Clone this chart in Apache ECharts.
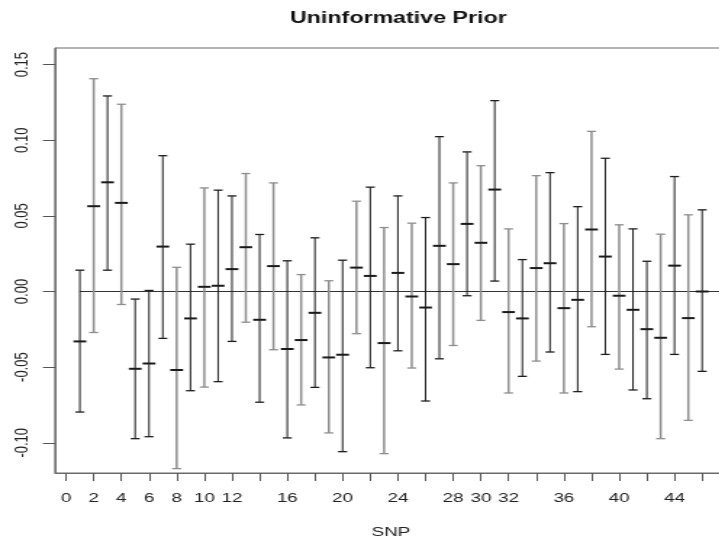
<!DOCTYPE html>
<html>
<head>
<meta charset="utf-8">
<script src="https://cdn.jsdelivr.net/npm/echarts@6/dist/echarts.min.js"></script>
<style>
html,body{margin:0;padding:0;background:#fff;overflow:hidden;}
#wrap{width:719px;height:539px;overflow:hidden;position:relative;}
#chart{width:496px;height:539px;transform:scaleX(1.45);transform-origin:0 0;}
</style>
</head>
<body>
<div id="wrap"><div id="chart"></div></div>
<script>
// SNP index
const snp = [1,2,3,4,5,6,7,8,9,10,11,12,13,14,15,16,17,18,19,20,21,22,23,24,25,26,27,28,29,30,31,32,33,34,35,36,37,38,39,40,41,42,43,44,45,46];
// posterior estimate
const est = [-0.0330,0.0564,0.0722,0.0586,-0.0511,-0.0476,0.0297,-0.0519,-0.0178,0.0031,0.0038,0.0148,0.0293,-0.0187,0.0168,-0.0380,-0.0321,-0.0141,-0.0436,-0.0418,0.0158,0.0103,-0.0341,0.0123,-0.0033,-0.0106,0.0302,0.0181,0.0447,0.0322,0.0674,-0.0136,-0.0178,0.0155,0.0187,-0.0110,-0.0055,0.0410,0.0231,-0.0028,-0.0121,-0.0249,-0.0306,0.0171,-0.0176,0.0000];
// lower limit
const lower = [-0.0797,-0.0271,0.0141,-0.0086,-0.0973,-0.0960,-0.0310,-0.1171,-0.0656,-0.0632,-0.0596,-0.0330,-0.0203,-0.0732,-0.0385,-0.0968,-0.0750,-0.0634,-0.0935,-0.1059,-0.0279,-0.0504,-0.1072,-0.0392,-0.0506,-0.0724,-0.0445,-0.0357,-0.0028,-0.0191,0.0069,-0.0671,-0.0561,-0.0460,-0.0400,-0.0671,-0.0662,-0.0233,-0.0416,-0.0513,-0.0651,-0.0709,-0.0973,-0.0416,-0.0852,-0.0528];
// upper limit
const upper = [0.0141,0.1407,0.1293,0.1238,-0.0050,0.0007,0.0898,0.0160,0.0313,0.0685,0.0670,0.0632,0.0780,0.0377,0.0718,0.0203,0.0112,0.0355,0.0071,0.0207,0.0597,0.0690,0.0423,0.0632,0.0452,0.0489,0.1024,0.0718,0.0923,0.0832,0.1262,0.0414,0.0211,0.0766,0.0786,0.0449,0.0561,0.1059,0.0881,0.0441,0.0414,0.0200,0.0379,0.0760,0.0507,0.0540];
// axis ticks / labels
const xTicks = [0,2,4,6,8,10,12,14,16,18,20,22,24,26,28,30,32,34,36,38,40,42,44,46];
const xLabels = [0,2,4,6,8,10,12,16,20,24,28,30,32,36,40,44];
const yTicks = [-0.10,-0.05,0.00,0.05,0.10,0.15];
const zeroLine = 0;
// style only: bars that look light grey in the reference
const lightBars = [2,4,8,10,13,15,17,19,21,23,25,28,30,32,34,36,38,40,43,45];

const FONT = '"Liberation Sans", Arial, Helvetica, sans-serif';
const chart = echarts.init(document.getElementById('chart'));

const barData = snp.map((s, i) => [s, lower[i], upper[i], est[i]]);

function renderItem(params, api) {
  const x = api.value(0);
  const pLo = api.coord([x, api.value(1)]);
  const pHi = api.coord([x, api.value(2)]);
  const pE = api.coord([x, api.value(3)]);
  const light = lightBars.indexOf(x) >= 0;
  const col = light ? '#8e8e8e' : '#1e1e1e';
  const w = light ? 1.5 : 1;
  const cap = 3.1, em = 4.4;
  const st = {stroke: col, lineWidth: w};
  return {
    type: 'group',
    children: [
      {type: 'line', shape: {x1: pLo[0], y1: pLo[1], x2: pHi[0], y2: pHi[1]}, style: st},
      {type: 'line', shape: {x1: pHi[0] - cap, y1: pHi[1], x2: pHi[0] + cap, y2: pHi[1]}, style: {stroke: col, lineWidth: 1.3}},
      {type: 'line', shape: {x1: pLo[0] - cap, y1: pLo[1], x2: pLo[0] + cap, y2: pLo[1]}, style: {stroke: col, lineWidth: 1.3}},
      {type: 'line', shape: {x1: pE[0] - em, y1: pE[1], x2: pE[0] + em, y2: pE[1]}, style: {stroke: '#1a1a1a', lineWidth: 2}}
    ]
  };
}

chart.setOption({
  animation: false,
  backgroundColor: '#ffffff',
  title: {
    text: 'Uninformative Prior',
    left: 269.7,
    textAlign: 'center',
    top: 6,
    textStyle: {fontFamily: FONT, fontSize: 16, fontWeight: 'bold', color: '#111'}
  },
  grid: {
    left: 37.9, right: -5.4, top: 48, bottom: 66,
    containLabel: false,
    outerBoundsMode: 'none',
    show: true, borderColor: '#6a6a6a', borderWidth: 1, backgroundColor: 'transparent'
  },
  xAxis: {
    type: 'value',
    position: 'bottom',
    min: -0.8, max: 47.8,
    name: 'SNP',
    nameLocation: 'middle',
    nameGap: 53,
    nameTextStyle: {fontFamily: FONT, fontSize: 13, color: '#222'},
    axisLine: {show: true, onZero: false, lineStyle: {color: '#6a6a6a', width: 1}},
    axisTick: {show: true, length: 8, customValues: xTicks, lineStyle: {color: '#555', width: 1}},
    axisLabel: {show: true, customValues: xLabels, margin: 19, fontFamily: FONT, fontSize: 13, color: '#222'},
    splitLine: {show: false}
  },
  yAxis: {
    type: 'value',
    position: 'left',
    min: -0.12, max: 0.161,
    axisLine: {show: true, onZero: false, lineStyle: {color: '#6a6a6a', width: 1}},
    axisTick: {show: true, length: 8.3, customValues: yTicks, lineStyle: {color: '#555', width: 1}},
    axisLabel: {
      show: true, customValues: yTicks, rotate: 90, margin: 16,
      fontFamily: FONT, fontSize: 13, color: '#222',
      formatter: v => v.toFixed(2)
    },
    splitLine: {show: false}
  },
  series: [
    {
      type: 'line',
      data: [[snp[0], zeroLine], [47.8, zeroLine]],
      symbol: 'none',
      lineStyle: {color: '#333', width: 1},
      silent: true,
      z: 1
    },
    {
      type: 'custom',
      data: barData,
      encode: {x: 0, y: [1, 2, 3]},
      renderItem: renderItem,
      z: 2
    }
  ]
});
</script>
</body>
</html>
